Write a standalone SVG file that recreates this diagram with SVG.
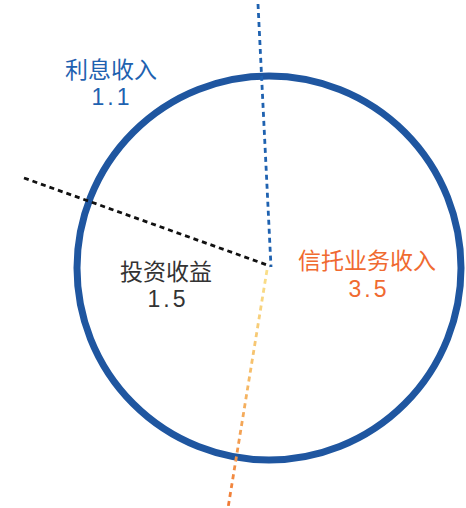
<svg xmlns="http://www.w3.org/2000/svg" width="466" height="508" viewBox="0 0 466 508">
<defs>
<linearGradient id="og" gradientUnits="userSpaceOnUse" x1="268" y1="268" x2="228" y2="508">
<stop offset="0" stop-color="#f9e08a"/>
<stop offset="0.5" stop-color="#f5b865"/>
<stop offset="1" stop-color="#f07a35"/>
</linearGradient>
<style>
.lbl{font-family:"Noto Sans CJK SC","Liberation Sans",sans-serif;font-size:23px;text-anchor:middle}
.num{font-family:"Liberation Sans",sans-serif;font-size:23px;text-anchor:middle;letter-spacing:3px}
.d{fill:none;stroke-width:2.8;stroke-dasharray:5 4}
</style>
</defs>
<rect width="466" height="508" fill="#ffffff"/>
<g id="ring">
<circle cx="269" cy="268" r="192" fill="none" stroke="#1f56a0" stroke-width="7"/>
</g>
<g id="connectors">
<line class="d" x1="258" y1="4" x2="271" y2="267" stroke="#1f62b0"/>
<line class="d" x1="24" y1="178" x2="270" y2="266" stroke="#111111"/>
<line class="d" x1="267" y1="270" x2="228" y2="508" stroke="url(#og)"/>
</g>
<g id="interest">
<text class="lbl" x="111" y="78" fill="#1f62b0">利息收入</text>
<text class="num" x="112" y="105" fill="#1f62b0">1.1</text>
</g>
<g id="investment">
<text class="lbl" x="166" y="280" fill="#333333">投资收益</text>
<text class="num" x="168" y="307" fill="#333333">1.5</text>
</g>
<g id="trust">
<text class="lbl" x="367" y="269" fill="#f06a30">信托业务收入</text>
<text class="num" x="369" y="297" fill="#f06a30">3.5</text>
</g>
</svg>
